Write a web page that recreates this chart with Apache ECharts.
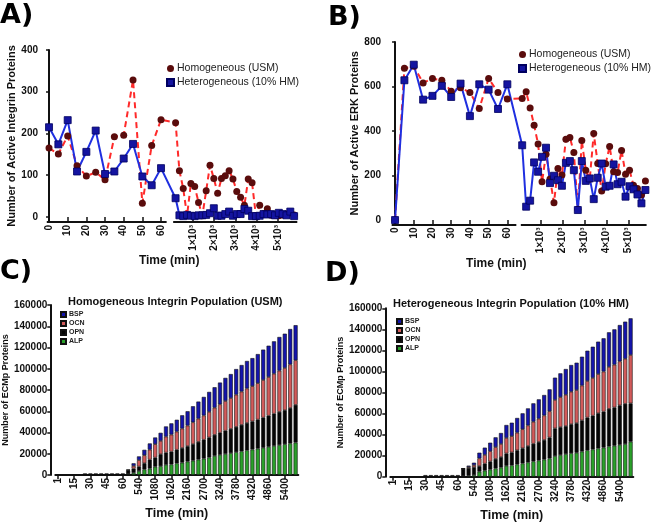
<!DOCTYPE html>
<html>
<head>
<meta charset="utf-8">
<script src="https://cdn.jsdelivr.net/npm/echarts@6/dist/echarts.min.js"></script>
<style>
html, body { margin: 0; padding: 0; background: #fff; }
#main { width: 655px; height: 523px; }
</style>
</head>
<body>
<div id="main"></div>
<script>
// ---- time points (min) ----
var earlyTimes = [0, 5, 10, 15, 20, 25, 30, 35, 40, 45, 50, 55, 60];
var lateTimes = [180, 360, 540, 720, 900, 1080, 1260, 1440, 1620, 1800, 1980, 2160, 2340, 2520, 2700, 2880,
	3060, 3240, 3420, 3600, 3780, 3960, 4140, 4320, 4500, 4680, 4860, 5040, 5220, 5400, 5580, 5760];
var barTimes = ['1', '5', '10', '15', '20', '25', '30', '35', '40', '45', '50', '55', '60',
	'180', '360', '540', '720', '900', '1080', '1260', '1440', '1620', '1800', '1980', '2160', '2340', '2520', '2700', '2880',
	'3060', '3240', '3420', '3600', '3780', '3960', '4140', '4320', '4500', '4680', '4860', '5040', '5220', '5400', '5580', '5760'];

// ---- A) active integrin ----
var integrinHomEarly = [165, 151, 194, 123, 98, 107, 89, 192, 196, 328, 33, 171, 233];
var integrinHomLate = [226, 111, 68, 3, 80, 73, 35, 3, 63, 124, 92, 57, 92, 99, 111, 91, 61, 47, 28, 91, 82, 3, 28, 8, 20, 4, 4, 3, 5, 7, 10, 5];
var integrinHetEarly = [215, 174, 232, 109, 156, 207, 103, 109, 140, 175, 97, 76, 117];
var integrinHetLate = [45, 4, 2, 5, 3, 2, 4, 4, 5, 9, 21, 3, 3, 7, 13, 3, 7, 7, 19, 15, 2, 2, 3, 7, 6, 7, 4, 10, 7, 4, 13, 2];

// ---- B) active ERK ----
var erkHomEarly = [0, 682, 691, 616, 636, 628, 579, 595, 573, 501, 636, 573, 544];
var erkHomLate = [546, 576, 504, 426, 342, 172, 296, 185, 78, 232, 202, 363, 371, 304, 49, 357, 224, 184, 389, 254, 130, 253, 330, 217, 214, 313, 206, 224, 156, 142, 112, 175];
var erkHetEarly = [0, 628, 698, 541, 558, 603, 553, 613, 467, 610, 586, 499, 610];
var erkHetLate = [336, 60, 87, 259, 217, 284, 325, 166, 199, 179, 154, 257, 265, 224, 45, 265, 176, 187, 94, 190, 254, 150, 154, 250, 161, 172, 105, 152, 138, 115, 75, 135];

// ---- C) ECMp, homogeneous ----
var homALP = [0, 0, 0, 0, 0, 0, 0, 0, 0, 0, 0, 0, 0,
	800, 2000, 3800, 5300, 6000, 7800, 8300, 9600, 10000, 11000, 11600, 12600, 13500, 14500, 15400, 16500,
	18000, 19000, 19800, 20600, 21500, 22300, 23200, 24000, 24800, 25600, 26500, 27400, 28200, 29000, 29800, 30500];
var homOPN = [0, 0, 0, 0, 0, 1500, 1500, 1500, 1500, 1500, 1500, 1500, 1500,
	3500, 4000, 4200, 5800, 8500, 8600, 11300, 11500, 12000, 12800, 13800, 14600, 15600, 16700, 17800, 18900,
	19800, 20800, 21900, 22800, 23800, 24900, 25800, 26500, 27400, 28400, 29300, 30300, 31200, 32000, 33300, 35500];
var homOCN = [0, 0, 0, 0, 0, 0, 0, 0, 0, 0, 0, 0, 0,
	400, 2500, 6000, 7500, 9300, 12600, 12500, 15000, 16000, 17000, 18300, 19300, 20500, 21800, 22800, 24000,
	25500, 26700, 27900, 29000, 30300, 31300, 32400, 33100, 34200, 35400, 36400, 37600, 38800, 39700, 41000, 42000];
var homBSP = [0, 0, 0, 0, 0, 0, 0, 0, 0, 0, 0, 0, 0,
	300, 2500, 3500, 5100, 5900, 6300, 7600, 9600, 10600, 11200, 12500, 13500, 15100, 16100, 17500, 18800,
	19300, 20500, 21800, 22600, 24100, 25000, 25900, 26400, 27400, 28600, 29500, 30500, 31700, 32300, 33300, 33000];

// ---- D) ECMp, heterogeneous ----
var hetALP = [0, 0, 0, 0, 0, 0, 0, 0, 0, 0, 0, 0, 0,
	500, 800, 1500, 4800, 5800, 6800, 7900, 8700, 10300, 10800, 11700, 12600, 13600, 14600, 15400, 16300,
	17400, 19600, 20600, 21500, 22300, 22700, 23900, 25100, 25900, 26900, 27600, 28800, 29400, 30300, 31000, 33200];
var hetOPN = [0, 0, 0, 0, 0, 0, 1500, 1500, 1500, 1500, 1500, 1500, 1500,
	7000, 7500, 7500, 5300, 6600, 7700, 9000, 10000, 11800, 12300, 13400, 14400, 15600, 16700, 17600, 18600,
	19900, 26300, 26500, 26600, 27600, 28200, 29600, 31100, 32100, 33400, 34200, 35700, 36400, 37500, 38300, 36500];
var hetOCN = [0, 0, 0, 0, 0, 0, 0, 0, 0, 0, 0, 0, 0,
	200, 1000, 2000, 7300, 8300, 9700, 11200, 12400, 14700, 15400, 16700, 18100, 19500, 20900, 22100, 23300,
	24900, 27000, 28500, 29700, 30800, 31400, 33100, 34700, 35800, 37200, 38100, 39800, 40600, 41800, 42700, 45900];
var hetBSP = [0, 0, 0, 0, 0, 0, 0, 0, 0, 0, 0, 0, 0,
	200, 1200, 2300, 5400, 6900, 8100, 9300, 10400, 12300, 12800, 14000, 15100, 16200, 17500, 18400, 19400,
	20800, 21200, 22600, 24500, 25400, 26000, 27400, 28800, 29700, 30800, 31600, 32900, 33600, 34500, 35300, 34900];

var earlyTicks = [0, 10, 20, 30, 40, 50, 60];
var lateTicks = [1000, 2000, 3000, 4000, 5000];

var FONT = "'Liberation Sans', Arial, sans-serif";
var INK = '#111';
var HOM = 'Homogeneous (USM)';
var HET = 'Heterogeneous (10% HM)';

// layout of the two broken-axis panels (late segment is drawn compressed after the break)
var panelA = { left: 41, top: 50, width: 256.3, height: 172, xMin: -4.3, xMax: 133, yMin: -12, yMax: 400,
	breakStart: 65.75, lateScale: 0.01138, segs: [[-1.2, 63], [66.5, 133]], yTicks: [0, 100, 200, 300, 400] };
var panelB = { left: 384, top: 42, width: 262.6, height: 182.5, xMin: -5.9, xMax: 134.4, yMin: -20, yMax: 800,
	breakStart: 65.8, lateScale: 0.0118, segs: [[-1.8, 64.8], [67.2, 134.4]], yTicks: [0, 200, 400, 600, 800] };

function latePos(p, t) {
	return p.breakStart + t * p.lateScale;
}

function timeData(p, earlyVals, lateVals) {
	var out = [];
	earlyTimes.forEach(function (t, i) { out.push([t, earlyVals[i]]); });
	lateTimes.forEach(function (t, i) { out.push([latePos(p, t), lateVals[i]]); });
	return out;
}

var grid = [], xAxis = [], yAxis = [], series = [];

function addLinePanel(idx, p, yName, homEarly, homLate, hetEarly, hetLate, namePad) {
	var xTicks = earlyTicks.concat(lateTicks.map(function (t) { return latePos(p, t); }));
	grid.push({ left: p.left, top: p.top, width: p.width, height: p.height });
	xAxis.push({
		gridIndex: idx, type: 'value', min: p.xMin, max: p.xMax,
		axisLine: { show: false },
		splitLine: { show: false },
		axisTick: { show: true, customValues: xTicks, length: 4, lineStyle: { color: INK, width: 1.5 } },
		axisLabel: {
			customValues: xTicks, rotate: 90, margin: 3,
			fontFamily: FONT, fontSize: 10, fontWeight: 'bold', color: INK,
			formatter: function (v) {
				if (v < p.breakStart) return String(Math.round(v));
				return Math.round((v - p.breakStart) / p.lateScale / 1000) + '×10³';
			}
		},
		name: 'Time (min)', nameLocation: 'middle', nameGap: 29,
		nameTextStyle: { fontFamily: FONT, fontSize: 12, fontWeight: 'bold', color: INK, padding: namePad }
	});
	yAxis.push({
		gridIndex: idx, type: 'value', min: p.yMin, max: p.yMax,
		axisLine: { show: true, lineStyle: { color: INK, width: 2 } },
		splitLine: { show: false },
		axisTick: { show: true, customValues: p.yTicks, length: 3, lineStyle: { color: INK, width: 1.5 } },
		axisLabel: { customValues: p.yTicks, margin: 3, fontFamily: FONT, fontSize: 10, fontWeight: 'bold', color: INK },
		name: yName, nameLocation: 'middle', nameRotate: 90, nameGap: idx === 0 ? 23 : 17,
		nameTextStyle: { fontFamily: FONT, fontSize: 11, fontWeight: 'bold', color: INK }
	});
	series.push({
		name: HOM, type: 'line', xAxisIndex: idx, yAxisIndex: idx,
		data: timeData(p, homEarly, homLate),
		clip: false,
		symbol: 'circle', symbolSize: 7,
		itemStyle: { color: '#5a0c0c' },
		lineStyle: { color: '#ff2a2a', width: 2, type: [6, 4] },
		markLine: {
			silent: true, symbol: ['none', 'none'], label: { show: false },
			lineStyle: { color: INK, width: 2, type: 'solid' },
			emphasis: { disabled: true },
			data: p.segs.map(function (s) {
				return [{ coord: [s[0], p.yMin] }, { coord: [s[1], p.yMin] }];
			})
		}
	});
	series.push({
		name: HET, type: 'line', xAxisIndex: idx, yAxisIndex: idx,
		data: timeData(p, hetEarly, hetLate),
		symbol: 'rect', symbolSize: 7,
		itemStyle: { color: '#1414a0', borderColor: '#000060', borderWidth: 0.8 },
		lineStyle: { color: '#1f2fe0', width: 2 }
	});
}

function blank(arr) {
	return arr.map(function (v) { return v === 0 ? '-' : v; });
}

var barColors = { ALP: '#2aa02a', OPN: '#050505', OCN: '#d25a5a', BSP: '#1414ac' };

function addBarPanel(idx, g, stack, alp, opn, ocn, bsp) {
	grid.push(g);
	xAxis.push({
		gridIndex: idx, type: 'category', data: barTimes,
		axisLine: { show: true, lineStyle: { color: INK, width: 2 } },
		axisTick: { show: true, interval: 2, alignWithLabel: true, length: 4, lineStyle: { color: INK, width: 1.5 } },
		axisLabel: { interval: 2, rotate: 90, margin: 3, fontFamily: FONT, fontSize: 10, fontWeight: 'bold', color: INK },
		name: 'Time (min)', nameLocation: 'middle', nameGap: 32,
		nameTextStyle: { fontFamily: FONT, fontSize: 12.5, fontWeight: 'bold', color: INK }
	});
	yAxis.push({
		gridIndex: idx, type: 'value', min: 0, max: 160000, interval: 20000, offset: 5,
		axisLine: { show: true, lineStyle: { color: INK, width: 2 } },
		splitLine: { show: false },
		axisTick: { show: true, length: 3, lineStyle: { color: INK, width: 1.5 } },
		axisLabel: { margin: 3, fontFamily: FONT, fontSize: 10, fontWeight: 'bold', color: INK,
			formatter: function (v) { return String(v); } },
		name: 'Number of ECMp Proteins', nameLocation: 'middle', nameRotate: 90, nameGap: 33,
		nameTextStyle: { fontFamily: FONT, fontSize: 9, fontWeight: 'bold', color: INK }
	});
	[['ALP', alp], ['OPN', opn], ['OCN', ocn], ['BSP', bsp]].forEach(function (s) {
		series.push({
			name: s[0], type: 'bar', stack: stack, xAxisIndex: idx, yAxisIndex: idx,
			data: blank(s[1]), barCategoryGap: '25%',
			itemStyle: { color: barColors[s[0]], borderColor: '#111', borderWidth: 0.6 }
		});
	});
}

addLinePanel(0, panelA, 'Number of Active Integrin Proteins',
	integrinHomEarly, integrinHomLate, integrinHetEarly, integrinHetLate, [0, 0, 0, 0]);
addLinePanel(1, panelB, 'Number of Active ERK Proteins',
	erkHomEarly, erkHomLate, erkHetEarly, erkHetLate, [0, 38, 0, 0]);
addBarPanel(2, { left: 55.3, top: 305, width: 243, height: 170 }, 'C', homALP, homOPN, homOCN, homBSP);
addBarPanel(3, { left: 390.3, top: 308.3, width: 243, height: 168.4 }, 'D', hetALP, hetOPN, hetOCN, hetBSP);

function panelTag(text, left, top) {
	return { text: text, left: left, top: top, padding: 0,
		textStyle: { fontFamily: "'DejaVu Sans', sans-serif", fontSize: 27, fontWeight: 'bold', color: '#000' } };
}

function lineLegend(left, top) {
	return {
		left: left, top: top, orient: 'vertical', padding: 0, itemGap: 3,
		itemWidth: 7, itemHeight: 7,
		data: [{ name: HOM, icon: 'circle' }, { name: HET, icon: 'rect' }],
		textStyle: { fontFamily: FONT, fontSize: 10.5, color: '#222', padding: [0, 0, 0, -2] }
	};
}

function barLegend(left, top) {
	return {
		left: left, top: top, orient: 'vertical', padding: 0, itemGap: 2,
		itemWidth: 5, itemHeight: 5, icon: 'rect',
		data: ['BSP', 'OCN', 'OPN', 'ALP'],
		textStyle: { fontFamily: FONT, fontSize: 7, fontWeight: 'bold', color: '#222', padding: [0, 0, 0, -2] }
	};
}

var option = {
	animation: false,
	backgroundColor: '#fff',
	title: [
		panelTag('A)', 0, 2),
		panelTag('B)', 328, 4),
		panelTag('C)', 0, 258),
		panelTag('D)', 325, 260),
		{ text: 'Homogeneous Integrin Population (USM)', left: 68, top: 296, padding: 0,
			textStyle: { fontFamily: FONT, fontSize: 11, fontWeight: 'bold', color: INK } },
		{ text: 'Heterogeneous Integrin Population (10% HM)', left: 393, top: 298, padding: 0,
			textStyle: { fontFamily: FONT, fontSize: 11, fontWeight: 'bold', color: INK } }
	],
	legend: [
		lineLegend(166, 63),
		lineLegend(518, 49),
		barLegend(60, 311),
		barLegend(396, 318)
	],
	grid: grid,
	xAxis: xAxis,
	yAxis: yAxis,
	series: series
};

var chart = echarts.init(document.getElementById('main'));
chart.setOption(option);
</script>
</body>
</html>
